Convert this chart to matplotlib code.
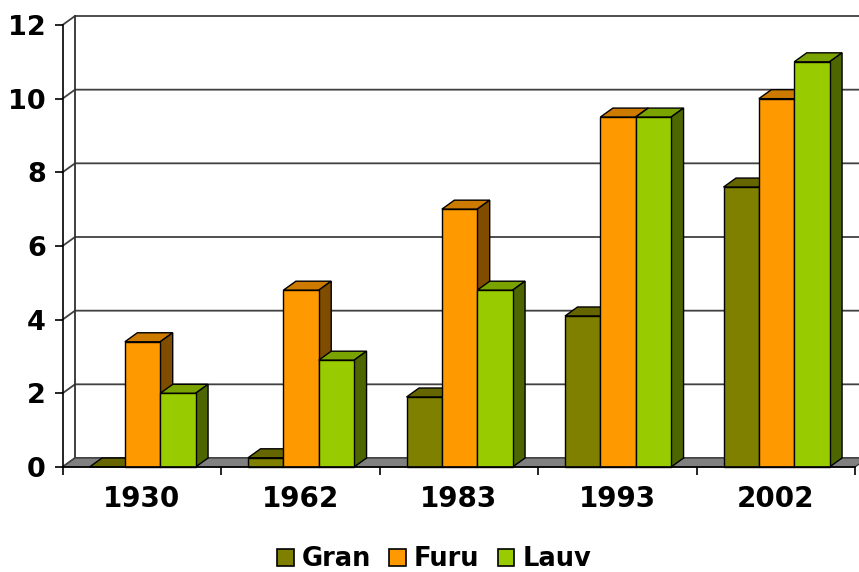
import numpy as np
import matplotlib
matplotlib.use('Agg')
import matplotlib.pyplot as plt
from matplotlib.patches import Patch

years = ['1930', '1962', '1983', '1993', '2002']
gran = [0, 0.25, 1.9, 4.1, 7.6]
furu = [3.4, 4.8, 7.0, 9.5, 10.0]
lauv = [2.0, 2.9, 4.8, 9.5, 11.0]
y_ticks = [0, 2, 4, 6, 8, 10, 12]

names = ['Gran', 'Furu', 'Lauv']
series = [gran, furu, lauv]
front_cols = ['#808000', '#ff9900', '#99cc00']
top_cols = ['#666600', '#cc7a00', '#7aa300']
side_cols = ['#4d4d00', '#804d00', '#4d6600']

W, H = 859, 572
LEFT, RIGHT, BOTTOM, TOP = 62.5, 855, 467, 25
DEPTH_X = 12.5 / ((RIGHT - LEFT) / 5)   # 3d offset in category units
DEPTH_Y = 9.0 / ((BOTTOM - TOP) / 12)   # 3d offset in value units
BAR_W = 0.223


def draw_bar(ax, x, h, width, i):
    """One 3d bar: top and side faces, then the front."""
    z = 3 + x
    x0, x1 = x - width / 2, x + width / 2
    ax.fill([x0, x0 + DEPTH_X, x1 + DEPTH_X, x1], [h, h + DEPTH_Y, h + DEPTH_Y, h],
            fc=top_cols[i], ec='black', lw=1, zorder=z, clip_on=False)
    ax.fill([x1, x1 + DEPTH_X, x1 + DEPTH_X, x1], [0, DEPTH_Y, h + DEPTH_Y, h],
            fc=side_cols[i], ec='black', lw=1, zorder=z, clip_on=False)
    if h > 0:
        ax.bar(x, h, width, color=front_cols[i], edgecolor='black', lw=1, zorder=z, clip_on=False)


fig = plt.figure(figsize=(W / 100, H / 100), dpi=100)
ax = fig.add_axes([LEFT / W, 1 - BOTTOM / H, (RIGHT - LEFT) / W, (BOTTOM - TOP) / H])
ax.set_xlim(-0.5, 4.5)
ax.set_ylim(0, 12)
ax.patch.set_visible(False)

# floor and back wall
ax.fill([-0.5, -0.5 + DEPTH_X, 4.5 + DEPTH_X, 4.5], [0, DEPTH_Y, DEPTH_Y, 0],
        fc='#808080', ec='#404040', lw=1, zorder=1, clip_on=False)
for t in y_ticks:
    ax.plot([-0.5, -0.5 + DEPTH_X, 4.5 + DEPTH_X], [t, t + DEPTH_Y, t + DEPTH_Y],
            color='#404040', lw=1.3, zorder=0.5, clip_on=False)
ax.plot([-0.5 + DEPTH_X] * 2, [DEPTH_Y, 12 + DEPTH_Y], color='#303030', lw=1.3, zorder=0.6, clip_on=False)

xs = np.arange(len(years))
for k in xs:
    for i, vals in enumerate(series):
        draw_bar(ax, k + 0.005 + (i - 1) * BAR_W, vals[k], BAR_W, i)

for s in ['top', 'right']:
    ax.spines[s].set_visible(False)
for s in ['left', 'bottom']:
    ax.spines[s].set_linewidth(1.2)
    ax.spines[s].set_zorder(20)

ax.set_yticks(y_ticks)
ax.set_xticks(xs)
ax.set_xticklabels(years)
ax.set_xticks(np.arange(-0.5, 5, 1), minor=True)
ax.tick_params(axis='x', which='major', length=0, pad=13, labelsize=20)
ax.tick_params(axis='x', which='minor', length=6, width=1.2)
ax.tick_params(axis='y', length=6, width=1.2, pad=6, labelsize=19.5)
for lab in ax.get_xticklabels() + ax.get_yticklabels():
    lab.set_fontweight('bold')

handles = [Patch(fc=c, ec='black', lw=1.2) for c in front_cols]
fig.legend(handles, names, ncols=3, frameon=False, loc='center',
           bbox_to_anchor=(434 / W, 1 - 559.5 / H), prop={'size': 18.5, 'weight': 'bold'},
           handlelength=0.65, handleheight=0.65, handletextpad=0.3,
           columnspacing=0.72, borderpad=0)

fig.savefig('out.png', dpi=100)
plt.close(fig)
